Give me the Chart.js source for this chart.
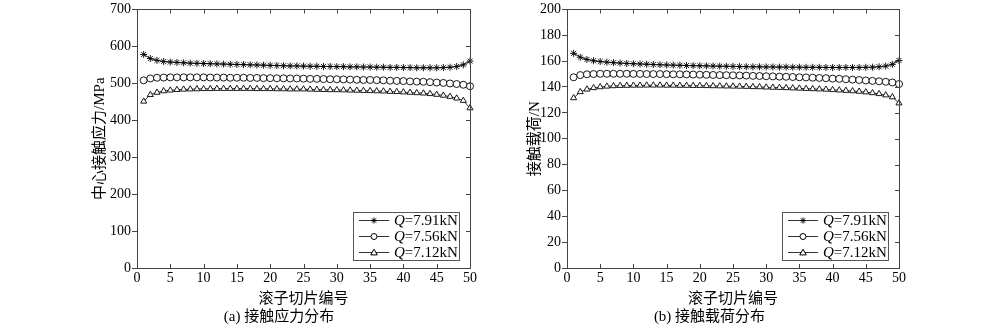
<!DOCTYPE html>
<html>
<head>
<meta charset="utf-8">
<script src="https://cdn.jsdelivr.net/npm/chart.js@4.4.1/dist/chart.umd.min.js"></script>
<style>
  html, body { margin:0; padding:0; background:#fff; }
  body { width:1000px; height:326px; position:relative; overflow:hidden; }
  canvas { position:absolute; top:0; }
</style>
</head>
<body>
<canvas id="c1" width="392" height="326" style="left:88px"></canvas>
<canvas id="c2" width="389" height="326" style="left:520px"></canvas>
<script>
// ---------- data ----------
const slices = [1,2,3,4,5,6,7,8,9,10,11,12,13,14,15,16,17,18,19,20,21,22,23,24,25,26,27,28,29,30,31,32,33,34,35,36,37,38,39,40,41,42,43,44,45,46,47,48,49,50];
const seriesLabels = ['7.91kN', '7.56kN', '7.12kN'];

const stressQ791 = [578,567,562,559,557.5,556.5,555.5,554.5,554,553.5,553,552.5,552,551.5,551,550.5,550,549.5,549,548.5,548,547.5,547,547,546.5,546,546,545.5,545.5,545,545,544.5,544.5,544,544,543.5,543.5,543,543,542.5,542.5,542,542,542,542,542.5,543.5,545.5,550,560];
const stressQ756 = [508,513,515,515.5,516,516,516,516,516,516,515.5,515.5,515.5,515,515,515,514.5,514.5,514,514,513.5,513.5,513,513,512.5,512,512,511.5,511,511,510.5,510,509.5,509,509,508.5,508,507,506.5,506,505,504.5,504,503,502,501,499.5,498,496,492];
const stressQ712 = [451,469,475,479,481,482.5,483.5,484,484.5,485,485,485.5,485.5,485.5,485.5,485.5,485.5,485,485,485,484.5,484.5,484,484,484,483.5,483,482.5,482,482,481.5,481,480.5,480,479.5,479,478.5,477.5,477,476,475,474,473,471.5,469.5,467,464,459.5,453,433];

const loadQ791 = [166,163,161.3,160.3,159.7,159.2,158.8,158.5,158.2,158,157.8,157.6,157.4,157.2,157,156.9,156.8,156.6,156.5,156.4,156.3,156.2,156.1,156,155.9,155.8,155.7,155.6,155.6,155.5,155.5,155.4,155.4,155.3,155.3,155.2,155.2,155.2,155.1,155.1,155.1,155.1,155.1,155.1,155.2,155.3,155.6,156.2,157.5,160.5];
const loadQ756 = [147.5,149.2,149.8,150,150.2,150.2,150.2,150.2,150.2,150.1,150.1,150,150,150,149.9,149.8,149.8,149.7,149.6,149.5,149.4,149.3,149.2,149.1,149,148.9,148.8,148.6,148.5,148.3,148.2,148,147.9,147.7,147.5,147.4,147.2,147,146.8,146.5,146.3,146,145.7,145.4,145,144.7,144.4,144,143.5,142.3];
const loadQ712 = [131.5,136.2,138.2,139.3,140,140.5,140.8,141,141.1,141.2,141.2,141.3,141.3,141.3,141.2,141.2,141.1,141.1,141,141,140.9,140.8,140.7,140.6,140.5,140.4,140.3,140.1,140,139.8,139.6,139.5,139.3,139.1,138.9,138.7,138.5,138.3,138.1,137.8,137.5,137.2,136.9,136.5,136,135.4,134.7,133.7,132.2,127.5];

const xTicksStep = 5;
const xTitle = '滚子切片编号';
const yTitle1 = '中心接触应力/MPa';
const yTitle2 = '接触载荷/N';
const caption1 = '(a) 接触应力分布';
const caption2 = '(b) 接触载荷分布';

// ---------- style ----------
const FONT = '"Liberation Serif", "Times New Roman", "Noto Sans CJK SC", serif';
const AXIS = '#444';
const LINE = '#333';
const styles = ['star', 'circle', 'triangle'];

function drawMarker(ctx, style, x, y, r) {
  ctx.beginPath();
  if (style === 'circle') {
    ctx.arc(x, y, r, 0, Math.PI * 2);
    ctx.fillStyle = '#fff'; ctx.fill(); ctx.stroke();
  } else if (style === 'triangle') {
    ctx.moveTo(x, y - r * 1.1);
    ctx.lineTo(x + r * 1.1, y + r * 0.8);
    ctx.lineTo(x - r * 1.1, y + r * 0.8);
    ctx.closePath();
    ctx.fillStyle = '#fff'; ctx.fill(); ctx.stroke();
  } else {
    for (let k = 0; k < 4; k++) {
      const a = k * Math.PI / 4;
      ctx.moveTo(x - Math.cos(a) * r, y - Math.sin(a) * r);
      ctx.lineTo(x + Math.cos(a) * r, y + Math.sin(a) * r);
    }
    ctx.stroke();
  }
}

const framePlugin = {
  id: 'frame',
  afterDraw(chart) {
    const ctx = chart.ctx;
    const {left, right, top, bottom} = chart.chartArea;
    const xs = chart.scales.x, ys = chart.scales.y;
    ctx.save();
    ctx.strokeStyle = AXIS;
    ctx.lineWidth = 1;
    ctx.strokeRect(Math.round(left) + 0.5, Math.round(top) + 0.5, Math.round(right - left), Math.round(bottom - top));
    ctx.beginPath();
    xs.ticks.forEach(t => {
      const px = Math.round(xs.getPixelForValue(t.value)) + 0.5;
      ctx.moveTo(px, bottom); ctx.lineTo(px, bottom - 4);
      ctx.moveTo(px, top); ctx.lineTo(px, top + 4);
    });
    ys.ticks.forEach(t => {
      const py = Math.round(ys.getPixelForValue(t.value)) + 0.5;
      ctx.moveTo(right, py); ctx.lineTo(right - 4, py);
    });
    ctx.stroke();

    // legend
    const bw = 106, bh = 48;
    const bx = Math.round(right - 11 - bw), by = Math.round(bottom - 8 - bh);
    ctx.fillStyle = '#fff';
    ctx.fillRect(bx, by, bw, bh);
    ctx.strokeStyle = '#555';
    ctx.strokeRect(bx + 0.5, by + 0.5, bw, bh);
    chart.data.datasets.forEach((ds, i) => {
      const cy = by + 8.5 + i * 16;
      ctx.strokeStyle = LINE;
      ctx.lineWidth = 1;
      ctx.beginPath();
      ctx.moveTo(bx + 6, cy); ctx.lineTo(bx + 36, cy);
      ctx.stroke();
      ctx.strokeStyle = '#000';
      drawMarker(ctx, styles[i], bx + 21, cy, 3);
      ctx.fillStyle = '#000';
      ctx.textBaseline = 'middle';
      ctx.textAlign = 'left';
      ctx.font = 'italic 15px ' + FONT;
      ctx.fillText('Q', bx + 41, cy + 1);
      const w = ctx.measureText('Q').width;
      ctx.font = '15px ' + FONT;
      ctx.fillText('=' + seriesLabels[i], bx + 41 + w, cy + 1);
    });
    ctx.restore();
  }
};

function makeDatasets(arrs) {
  return arrs.map((arr, i) => ({
    label: 'Q=' + seriesLabels[i],
    data: slices.map((s, j) => ({x: s, y: arr[j]})),
    borderColor: LINE,
    borderWidth: 1,
    pointStyle: styles[i],
    pointRadius: 3.5,
    pointBorderColor: '#000',
    pointBackgroundColor: i === 0 ? '#000' : '#fff',
    pointBorderWidth: 0.9,
    tension: 0,
    clip: false
  }));
}

function makeChart(id, arrs, yMax, yStep, yTitle, caption, yWidth, titlePad) {
  return new Chart(document.getElementById(id), {
    type: 'line',
    data: { datasets: makeDatasets(arrs) },
    plugins: [framePlugin],
    options: {
      responsive: false,
      animation: false,
      devicePixelRatio: 1,
      layout: { padding: { top: 8, right: 10, left: 0, bottom: 0 } },
      plugins: {
        legend: { display: false },
        tooltip: { enabled: false },
        title: {
          display: true, position: 'bottom', text: caption, color: '#000',
          font: { family: FONT, size: 15, weight: 'normal', lineHeight: 1.2 },
          padding: { top: 0, bottom: 0 }
        }
      },
      scales: {
        x: {
          type: 'linear', min: 0, max: 50,
          ticks: { stepSize: xTicksStep, color: '#000', padding: 2, maxRotation: 0,
                   font: { family: FONT, size: 14 } },
          grid: { display: false, drawTicks: false, tickLength: 0 },
          border: { display: false },
          title: { display: true, text: xTitle, color: '#000', padding: { top: 0, bottom: 0 },
                   font: { family: FONT, size: 15, lineHeight: 1.2 } },
          afterFit(s) { s.height = 40; }
        },
        y: {
          type: 'linear', min: 0, max: yMax,
          ticks: { stepSize: yStep, color: '#000', padding: 1,
                   font: { family: FONT, size: 14 } },
          grid: { drawOnChartArea: false, drawTicks: true, tickLength: 5, color: AXIS },
          border: { display: false },
          title: { display: true, text: yTitle, color: '#000', padding: { top: titlePad, bottom: 0 },
                   font: { family: FONT, size: 15, lineHeight: 1.2 } },
          afterFit(s) { s.width = yWidth; }
        }
      }
    }
  });
}

makeChart('c1', [stressQ791, stressQ756, stressQ712], 700, 100, yTitle1, caption1, 49, 3);
makeChart('c2', [loadQ791, loadQ756, loadQ712], 200, 20, yTitle2, caption2, 47, 6);
</script>
</body>
</html>
